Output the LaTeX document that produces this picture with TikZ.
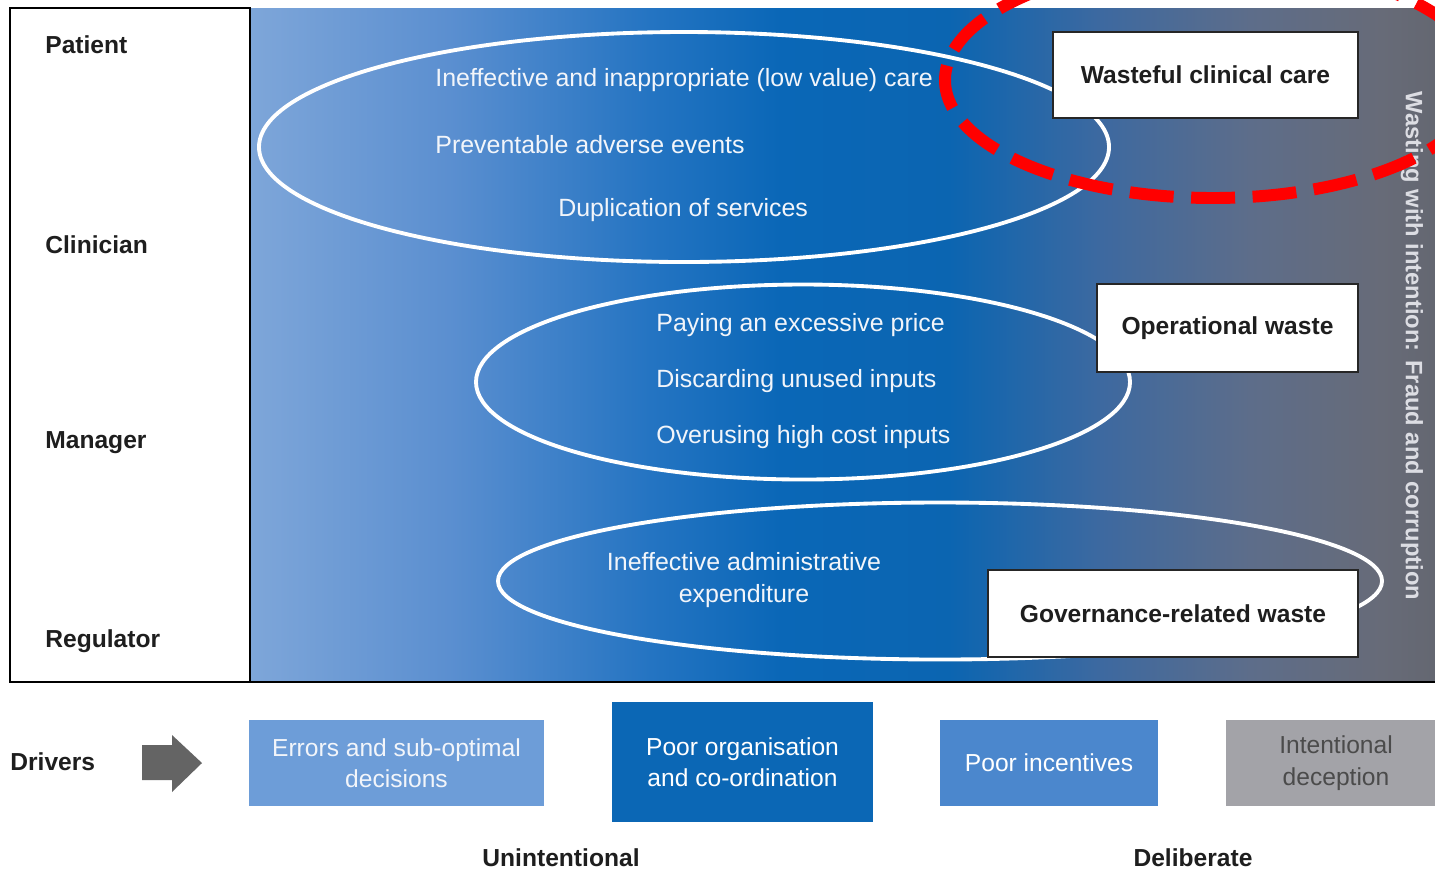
\documentclass[tikz,border=0pt]{standalone}
\usepackage{fontspec}
\setmainfont{Liberation Sans}
\usetikzlibrary{shapes.geometric}
\definecolor{s1}{HTML}{7EA6D9}
\definecolor{s2}{HTML}{5B8FD0}
\definecolor{s3}{HTML}{2474C2}
\definecolor{s4}{HTML}{0A67B7}
\definecolor{s5}{HTML}{0B65B1}
\definecolor{s6}{HTML}{3D69A0}
\definecolor{s7}{HTML}{5D6D8A}
\definecolor{s8}{HTML}{676B78}
\definecolor{s9}{HTML}{646771}
\definecolor{labeldark}{HTML}{1E1E1E}
\definecolor{whitetext}{HTML}{F2F5FA}
\definecolor{boxone}{HTML}{6D9DD8}
\definecolor{boxtwo}{HTML}{0B67B5}
\definecolor{boxthree}{HTML}{4B87CD}
\definecolor{boxfour}{HTML}{A3A3A8}
\definecolor{arrowgray}{HTML}{646464}
\definecolor{vtext}{HTML}{DCDDE3}
\definecolor{redline}{HTML}{FF0000}
\pgfdeclarehorizontalshading{wasteshade}{100bp}{color(0bp)=(s1); color(25bp)=(s1); color(33.4bp)=(s2); color(41.9bp)=(s3); color(47.4bp)=(s4); color(54.5bp)=(s5); color(60.9bp)=(s6); color(67.2bp)=(s7); color(72.7bp)=(s8); color(75bp)=(s9); color(100bp)=(s9)}
\begin{document}
\begin{tikzpicture}[x=0.02cm,y=-0.02cm,
  lbl/.style={font=\bfseries\fontsize{14}{18}\selectfont, text=labeldark, inner sep=0pt},
  wtxt/.style={font=\fontsize{14.2}{18}\selectfont, text=whitetext, inner sep=0pt, align=center},
  ring/.style={ellipse, draw=white, line width=2.2pt, inner sep=0pt},
  wastebox/.style={draw=black!85, fill=white, line width=1.2pt, inner sep=0pt, font=\bfseries\fontsize{14}{18}\selectfont, text=labeldark},
  driverbox/.style={inner sep=0pt, align=center, font=\fontsize{14}{18}\selectfont}
]
\useasboundingbox (0,0) rectangle (1435,870);
\fill[white] (0,0) rectangle (1435,870);
\begin{scope}
\clip (0,0) rectangle (1435,870);
% background gradient
\shade[shading=wasteshade] (250,8) rectangle (1435,682);
\draw[black, line width=1.1pt] (250,682) -- (1435,682);
% left box
\draw[black, line width=1.1pt, fill=white] (10,8) rectangle (250,682);
\node[lbl, anchor=west] (patient) at (45,45) {Patient};
\node[lbl, anchor=west] (clinician) at (45,245) {Clinician};
\node[lbl, anchor=west] (manager) at (45,443) {Manager};
\node[lbl, anchor=west] (regulator) at (45,641) {Regulator};
% ellipses
\node[ring, minimum width=850*0.02cm, minimum height=230*0.02cm] (ringone) at (684,147) {};
\node[ring, minimum width=654*0.02cm, minimum height=195*0.02cm] (ringtwo) at (803,382) {};
\node[ring, minimum width=884*0.02cm, minimum height=157*0.02cm] (ringthree) at (940,581) {};
% texts in ellipses
\node[wtxt, anchor=west] (t1) at (435,80) {Ineffective and inappropriate (low value) care};
\node[wtxt, anchor=west] (t2) at (435,145) {Preventable adverse events};
\node[wtxt, anchor=west] (t3) at (558,210) {Duplication of services};
\node[wtxt, anchor=west] (t4) at (656,325) {Paying an excessive price};
\node[wtxt, anchor=west] (t5) at (656,381) {Discarding unused inputs};
\node[wtxt, anchor=west] (t6) at (656,437) {Overusing high cost inputs};
\node[wtxt] (t7) at (744,580) {Ineffective administrative\\expenditure};
% boxes
\node[wastebox, minimum width=305*0.02cm, minimum height=86*0.02cm] (wcc) at (1205.5,75) {Wasteful clinical care};
\node[wastebox, minimum width=261*0.02cm, minimum height=88*0.02cm] (ops) at (1227.5,328) {Operational waste};
\node[wastebox, minimum width=370*0.02cm, minimum height=87*0.02cm] (gov) at (1173,613.5) {Governance-related waste};
% vertical text
\node[lbl, text=vtext, rotate=-90, font=\bfseries\fontsize{13.5}{18}\selectfont] (fraud) at (1412,346) {Wasting with intention: Fraud and corruption};
% bottom row
\node[lbl, anchor=west] (drivers) at (10,762) {Drivers};
\fill[arrowgray] (142,745) -- (172,745) -- (172,735) -- (202,763) -- (172,792) -- (172,780) -- (142,780) -- cycle;
\node[driverbox, fill=boxone, text=whitetext, minimum width=295*0.02cm, minimum height=86*0.02cm] (errors) at (396.5,763) {Errors and sub-optimal\\decisions};
\node[driverbox, fill=boxtwo, text=white, minimum width=261*0.02cm, minimum height=120*0.02cm] (poororg) at (742.5,762) {Poor organisation\\and co-ordination};
\node[driverbox, fill=boxthree, text=white, minimum width=218*0.02cm, minimum height=86*0.02cm] (poorinc) at (1049,763) {Poor incentives};
\node[driverbox, fill=boxfour, text=labeldark!80, minimum width=220*0.02cm, minimum height=86*0.02cm] (deception) at (1336,763) {Intentional\\deception};
\node[lbl] (unint) at (561,858) {Unintentional};
\node[lbl] (delib) at (1193,858) {Deliberate};
% red dashed highlight
\node[ellipse, draw=redline, line width=6.8pt, dash pattern=on 25pt off 10pt, inner sep=0pt, minimum width=536*0.02cm, minimum height=236*0.02cm] (highlight) at (1213,80) {};
\end{scope}
\end{tikzpicture}
\end{document}
